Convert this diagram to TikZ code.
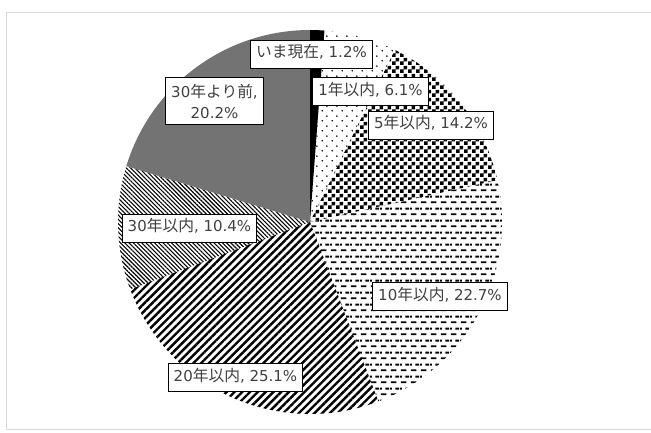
\documentclass[tikz,border=0pt]{standalone}
\usepackage{fontspec}
\setmainfont{DejaVu Sans}
\newfontfamily\jp[Scale=1.05]{Noto Sans CJK JP}
\usetikzlibrary{patterns, patterns.meta}

\pgfdeclarepatternformonly{checkers}{\pgfpointorigin}{\pgfpoint{8pt}{8pt}}{\pgfpoint{8pt}{8pt}}{%
  \pgfpathrectangle{\pgfpointorigin}{\pgfpoint{4pt}{4pt}}%
  \pgfpathrectangle{\pgfpoint{4pt}{4pt}}{\pgfpoint{4pt}{4pt}}%
  \pgfusepath{fill}}
\pgfdeclarepatternformonly{dashrows}{\pgfpointorigin}{\pgfpoint{10pt}{12pt}}{\pgfpoint{10pt}{12pt}}{%
  \pgfpathrectangle{\pgfpoint{1pt}{2pt}}{\pgfpoint{6pt}{2pt}}%
  \pgfpathrectangle{\pgfpoint{6pt}{8pt}}{\pgfpoint{4pt}{2pt}}%
  \pgfpathrectangle{\pgfpoint{0pt}{8pt}}{\pgfpoint{2pt}{2pt}}%
  \pgfusepath{fill}}
\pgfdeclarepatternformonly{sparsedots}{\pgfpointorigin}{\pgfpoint{10pt}{10pt}}{\pgfpoint{10pt}{10pt}}{%
  \pgfpathcircle{\pgfpoint{2.5pt}{2.5pt}}{1pt}%
  \pgfpathcircle{\pgfpoint{7.5pt}{7.5pt}}{1pt}%
  \pgfusepath{fill}}

\begin{document}
\begin{tikzpicture}[x=1pt, y=1pt,
    box/.style={draw=black, line width=0.8pt, fill=white, text=black!75,
      font=\fontsize{15}{21}\selectfont, inner xsep=5.5pt},
    lbl/.style={box, text height=11pt, text depth=4pt, inner ysep=6.5pt},
    pnow/.style={fill=black},
    p1/.style={pattern=sparsedots},
    p5/.style={pattern=checkers},
    p10/.style={pattern=dashrows},
    p20/.style={pattern={Lines[angle=45, distance=5.5pt, line width=2.4pt]}},
    p30/.style={pattern={Lines[angle=-45, distance=3pt, line width=1.1pt]}},
    pold/.style={fill=black!55}]
        \useasboundingbox (-310,-210) rectangle (341,222);
        \draw[black!15, line width=1pt] (-303,210) rectangle (360,-207);
        \foreach \s/\from/\to in {pnow/90/85.68, p1/85.68/63.72, p5/63.72/12.6,
            p10/12.6/-69.12, p20/-69.12/-159.48, p30/-159.48/-196.92, pold/-196.92/-270}
            \fill[\s] (0,0) -- (\from:192pt) arc[start angle=\from, end angle=\to, radius=192pt] -- cycle;
        \node[lbl] (lnow) at (1.5,168) {{\jp いま現在}, 1.2\%};
        \node[lbl] (l1) at (60.5,130.5) {1{\jp 年以内}, 6.1\%};
        \node[lbl] (l5) at (121,97) {5{\jp 年以内}, 14.2\%};
        \node[lbl] (l10) at (130,-74.5) {10{\jp 年以内}, 22.7\%};
        \node[lbl] (l20) at (-74.5,-155.5) {20{\jp 年以内}, 25.1\%};
        \node[lbl] (l30) at (-120.5,-6) {30{\jp 年以内}, 10.4\%};
        \node[box, align=center, inner ysep=6.5pt] (lold) at (-95.5,121) {30{\jp 年より前},\\20.2\%};
    \end{tikzpicture}
\end{document}
